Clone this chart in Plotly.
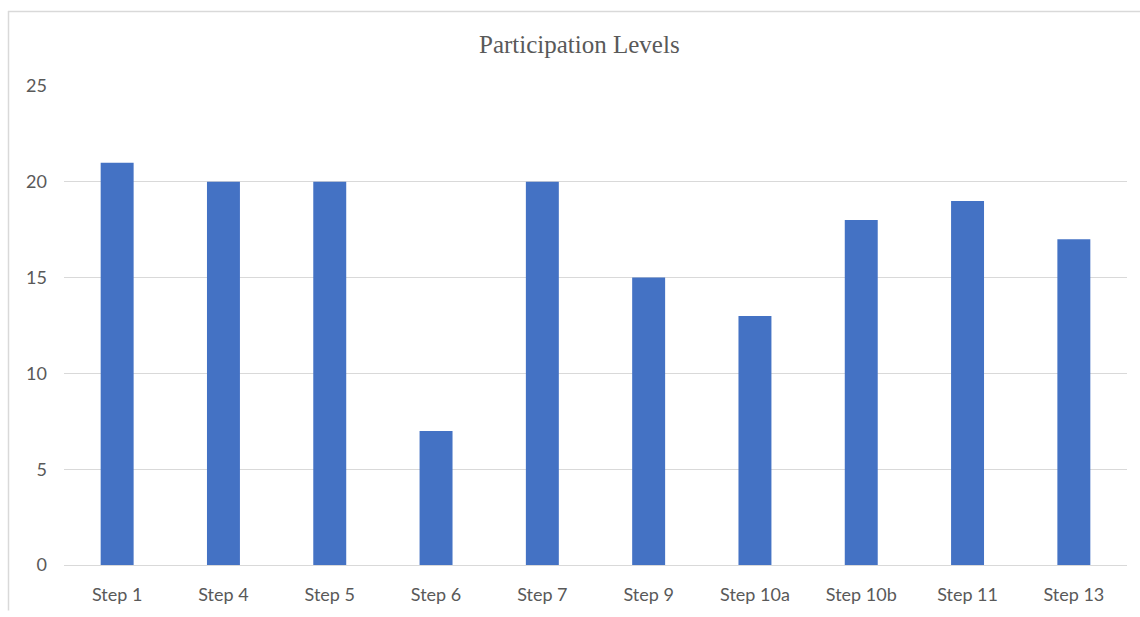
import plotly.graph_objects as go

categories = ["Step 1", "Step 4", "Step 5", "Step 6", "Step 7", "Step 9",
              "Step 10a", "Step 10b", "Step 11", "Step 13"]
values = [21, 20, 20, 7, 20, 15, 13, 18, 19, 17]
y_ticks = [0, 5, 10, 15, 20, 25]

W, H = 1140, 617
L, R, T, B = 64, 13, 86, 46
pw, ph = W - L - R, H - T - B

def px_x(px):
    return (px - L) / pw

def px_y(py):
    return (H - B - py) / ph

fig = go.Figure(go.Bar(x=categories, y=values, marker_color="#4472C4",
                       marker_line_width=0))

fig.update_layout(
    width=W, height=H,
    margin=dict(l=L, r=R, t=T, b=B),
    paper_bgcolor="white", plot_bgcolor="white",
    bargap=0.69,
    showlegend=False,
    font=dict(family="Lato, Open Sans, sans-serif", color="#595959", size=18),
    xaxis=dict(showgrid=False, showline=True, linecolor="#D9D9D9", linewidth=1,
               ticks="", ticklabelstandoff=13, tickfont=dict(size=18, color="#595959")),
    yaxis=dict(range=[0, 25], tickvals=y_ticks, showgrid=True, gridcolor="#D9D9D9",
               gridwidth=1, zeroline=False, showline=False, ticks="",
               ticklabelstandoff=16, tickfont=dict(size=18, color="#595959")),
    annotations=[dict(text="Participation Levels", xref="paper", yref="paper",
                      x=px_x(579), y=px_y(44), xanchor="center", yanchor="middle",
                      showarrow=False,
                      font=dict(family="Liberation Serif, Times New Roman, serif",
                                size=25, color="#595959"))],
    shapes=[
        dict(type="line", xref="paper", yref="paper", x0=px_x(8), x1=px_x(1140),
             y0=px_y(10.5), y1=px_y(10.5), line=dict(color="#D9D9D9", width=1.5)),
        dict(type="line", xref="paper", yref="paper", x0=px_x(8.5), x1=px_x(8.5),
             y0=px_y(10), y1=px_y(617), line=dict(color="#D9D9D9", width=1.5)),
    ],
)

fig.write_html("out.html")
